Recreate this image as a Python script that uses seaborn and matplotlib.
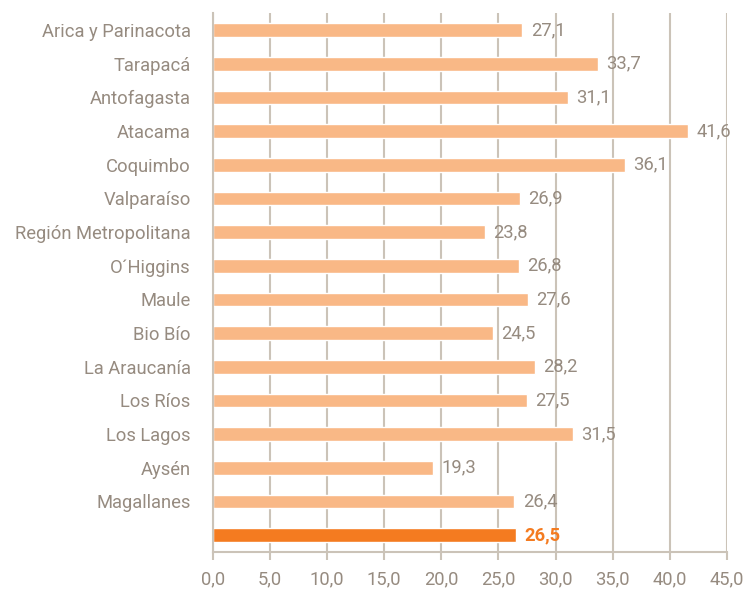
import numpy as np
import pandas as pd
import seaborn as sns
import matplotlib.pyplot as plt
from matplotlib.ticker import FuncFormatter, FixedLocator

regions = ['Arica y Parinacota', 'Tarapacá', 'Antofagasta', 'Atacama', 'Coquimbo',
           'Valparaíso', 'Región Metropolitana', 'O´Higgins', 'Maule', 'Bio Bío',
           'La Araucanía', 'Los Ríos', 'Los Lagos', 'Aysén', 'Magallanes', '']
values = [27.1, 33.7, 31.1, 41.6, 36.1, 26.9, 23.8, 26.8, 27.6, 24.5,
          28.2, 27.5, 31.5, 19.3, 26.4, 26.5]
highlight = [False] * 15 + [True]

LIGHT = '#f9b886'
DARK = '#f47b20'
GRID = '#cbc3b8'
TEXT = '#968b80'

sns.set_theme(style='white')
plt.rcParams['font.family'] = ['Roboto', 'DejaVu Sans']
plt.rcParams['font.weight'] = 'normal'

df = pd.DataFrame({'region': [r if r else ' ' for r in regions],
                   'value': values,
                   'hl': highlight})

fig = plt.figure(figsize=(7.47, 5.92), dpi=100)
ax = fig.add_axes([0.285, 0.0676, 0.688, 0.91])

sns.barplot(data=df, x='value', y='region', hue='hl', palette={False: LIGHT, True: DARK},
            width=0.41, legend=False, ax=ax, orient='h', saturation=1)

ax.set_xlim(0, 45)
ax.set_ylim(len(regions) - 0.5, -0.5)
ax.set_xticks(np.arange(0, 46, 5))
ax.xaxis.set_major_formatter(FuncFormatter(lambda v, p: f'{v:.1f}'.replace('.', ',')))
ax.set_xlabel('')
ax.set_ylabel('')

ax.grid(axis='x', color=GRID, linewidth=1.5)
ax.set_axisbelow(True)
for s in ['top', 'right']:
    ax.spines[s].set_visible(False)
for s in ['left', 'bottom']:
    ax.spines[s].set_color(GRID)
    ax.spines[s].set_linewidth(1.5)

ax.tick_params(axis='y', which='major', length=0, pad=16, labelsize=13.2, labelcolor=TEXT)
ax.yaxis.set_minor_locator(FixedLocator(np.arange(-0.5, len(regions), 1)))
ax.tick_params(axis='y', which='minor', length=5, width=1.5, color=GRID, direction='out')
ax.tick_params(axis='x', which='major', length=6, width=1.5, color=GRID, pad=7,
               labelsize=13.2, labelcolor=TEXT)
ax.tick_params(axis='x', bottom=True)

for i, (v, h) in enumerate(zip(values, highlight)):
    ax.annotate(f'{v:.1f}'.replace('.', ','), (v, i), xytext=(6, 0), textcoords='offset points',
                va='center', ha='left', fontsize=13.2,
                color=DARK if h else TEXT, fontweight='bold' if h else 'normal')

fig.savefig('out.png', dpi=100)
